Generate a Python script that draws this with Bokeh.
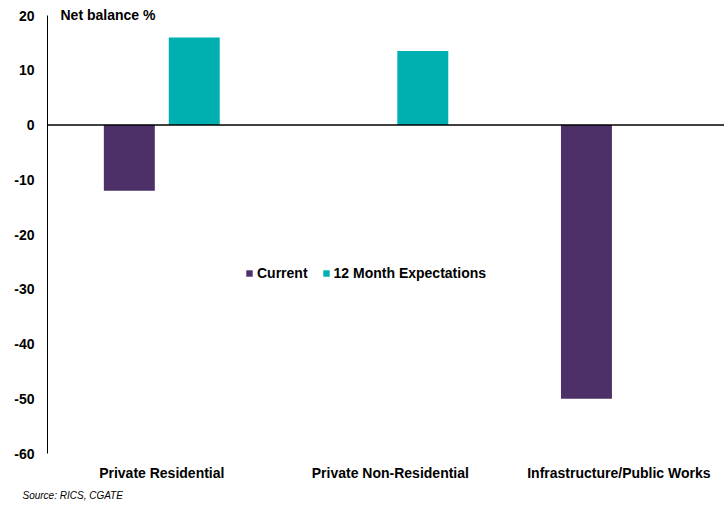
from bokeh.plotting import figure
from bokeh.models import (ColumnDataSource, Range1d, FixedTicker, Span, Title,
                          Legend, LegendItem)
from bokeh.transform import dodge
from bokeh.embed import file_html
from bokeh.resources import INLINE

categories = ["Private Residential", "Private Non-Residential", "Infrastructure/Public Works"]
current = [-12, 0, -50]
expectations = [16, 13.5, 0]
y_ticks = [-60, -50, -40, -30, -20, -10, 0, 10, 20]
series_names = ["Current", "12 Month Expectations"]
colors = ["#4D3068", "#00B0B0"]

FONT = "Liberation Sans"

src = ColumnDataSource(dict(x=list(range(len(categories))), cur=current, exp=expectations))

p = figure(width=724, height=505, output_backend="svg", toolbar_location=None,
           x_range=Range1d(-0.5, 2.462), y_range=Range1d(-60, 20),
           min_border_left=47, min_border_right=0, min_border_top=15, min_border_bottom=46)
p.outline_line_color = None
p.xgrid.visible = False
p.ygrid.visible = False
p.background_fill_color = "white"

r1 = p.vbar(x=dodge("x", -0.142, range=p.x_range), top="cur", bottom=0, width=0.223,
            source=src, fill_color=colors[0], line_color=None)
r2 = p.vbar(x=dodge("x", 0.142, range=p.x_range), top="exp", bottom=0, width=0.223,
            source=src, fill_color=colors[1], line_color=None)

p.add_layout(Span(location=0, dimension="width", line_color="black", line_width=1.5))

# y axis
p.yaxis.ticker = FixedTicker(ticks=y_ticks)
p.yaxis.major_label_overrides = {t: str(t) for t in y_ticks}
p.yaxis.major_tick_line_color = None
p.yaxis.major_tick_out = 0
p.yaxis.major_tick_in = 0
p.yaxis.minor_tick_line_color = None
p.yaxis.minor_tick_out = 0
p.yaxis.axis_line_color = "black"
p.yaxis.axis_line_width = 1
p.yaxis.major_label_standoff = 13
p.yaxis.major_label_text_font = FONT
p.yaxis.major_label_text_font_style = "bold"
p.yaxis.major_label_text_font_size = "14px"
p.yaxis.major_label_text_color = "black"

# x axis
p.xaxis.ticker = FixedTicker(ticks=list(range(len(categories))))
p.xaxis.major_label_overrides = {i: c for i, c in enumerate(categories)}
p.xaxis.axis_line_color = None
p.xaxis.major_tick_line_color = None
p.xaxis.major_tick_out = 0
p.xaxis.major_tick_in = 0
p.xaxis.minor_tick_line_color = None
p.xaxis.minor_tick_out = 0
p.xaxis.major_label_standoff = 11
p.xaxis.major_label_text_font = FONT
p.xaxis.major_label_text_font_style = "bold"
p.xaxis.major_label_text_font_size = "14px"
p.xaxis.major_label_text_line_height = 0.8
p.xaxis.major_label_text_color = "black"

legend = Legend(items=[LegendItem(label=series_names[0], renderers=[r1]),
                       LegendItem(label=series_names[1], renderers=[r2])],
                orientation="horizontal", location=(198, 172),
                glyph_width=8, glyph_height=8, label_standoff=4, spacing=14,
                padding=0, margin=0, border_line_color=None, background_fill_alpha=0,
                label_text_font=FONT, label_text_font_style="bold",
                label_text_font_size="14px", label_text_color="black")
p.add_layout(legend)

p.add_layout(Title(text="Net balance %", align="left", offset=13, standoff=-15,
                   text_font=FONT, text_font_style="bold", text_font_size="14px",
                   text_line_height=0.8, text_color="black"), "above")

p.add_layout(Title(text="Source: RICS, CGATE", align="left", offset=-25, standoff=9,
                   text_font=FONT, text_font_style="italic", text_font_size="10px",
                   text_line_height=0.8, text_color="black"), "below")

open("out.html", "w").write(file_html(p, INLINE))
